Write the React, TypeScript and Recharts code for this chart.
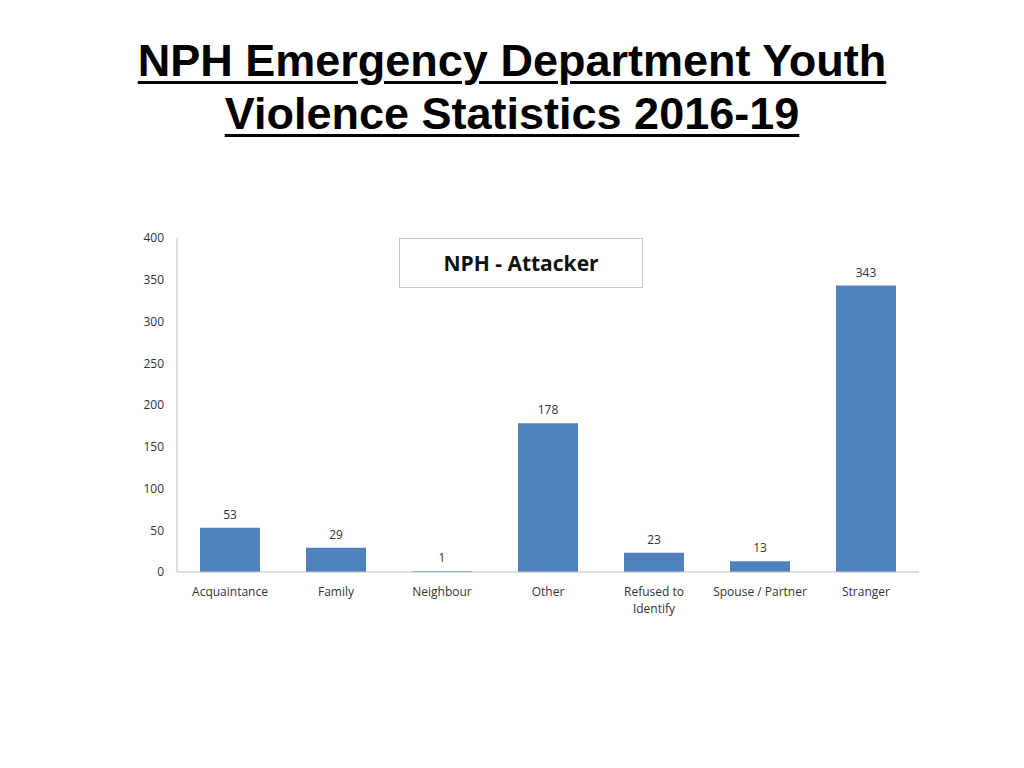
import React from "react";
import { BarChart, Bar, XAxis, YAxis, LabelList } from "recharts";

const CATEGORIES = ["Acquaintance", "Family", "Neighbour", "Other", "Refused to Identify", "Spouse / Partner", "Stranger"];
const ATTACKER = [53, 29, 1, 178, 23, 13, 343];
const Y_TICKS = [0, 50, 100, 150, 200, 250, 300, 350, 400];
const SERIES_NAME = "NPH - Attacker";

const BLUE = "#4f81bd";
const AXIS = "#bfbfbf";
const TEXT = "#333333";
const FONT = "'Open Sans', 'Noto Sans', sans-serif";

// only one label wraps in the original
const WRAP: Record<string, string[]> = { "Refused to Identify": ["Refused to", "Identify"] };

const data = CATEGORIES.map((name, i) => ({ name, v: ATTACKER[i] }));

function XTick({ x, y, payload }: any) {
  const lines = WRAP[payload.value] ?? [payload.value];
  return (
    <text x={x} y={y} textAnchor="middle" fontSize={12} fill={TEXT} fontFamily={FONT}>
      {lines.map((l, i) => (
        <tspan key={i} x={x} dy={i === 0 ? 12 : 17}>{l}</tspan>
      ))}
    </text>
  );
}

export default function App() {
  return (
    <div style={{ position: "absolute", left: 0, top: 0, width: 1024, height: 768, background: "#fff" }}>
      <div
        style={{
          position: "absolute", left: 0, top: 34, width: 1024, textAlign: "center",
          fontFamily: "'Liberation Sans', Arial, sans-serif", fontWeight: 700, fontSize: 45, lineHeight: "53px",
          textDecoration: "underline", textDecorationThickness: 3, textUnderlineOffset: 5, color: "#000",
        }}
      >
        NPH Emergency Department Youth
        <br />
        Violence Statistics 2016-19
      </div>
      <div style={{ position: "absolute", left: 0, top: 0 }}>
        <BarChart width={1024} height={768} data={data} margin={{ top: 238, right: 105, left: 117, bottom: 166 }}>
          <YAxis
            width={60}
            domain={[0, 400]}
            ticks={Y_TICKS}
            interval={0}
            tickLine={false}
            tickSize={0}
            tickMargin={13}
            axisLine={{ stroke: AXIS }}
            tick={{ fontSize: 12, fill: TEXT, fontFamily: FONT }}
          />
          <XAxis
            dataKey="name"
            height={30}
            interval={0}
            tickLine={false}
            tickSize={0}
            tickMargin={12}
            axisLine={{ stroke: AXIS }}
            tick={<XTick />}
          />
          <Bar dataKey="v" name={SERIES_NAME} fill={BLUE} barSize={60} isAnimationActive={false}>
            <LabelList dataKey="v" position="top" offset={9} fontSize={12} fill={TEXT} fontFamily={FONT} />
          </Bar>
        </BarChart>
      </div>
      <div
        style={{
          position: "absolute", left: 399, top: 238, width: 244, height: 50, boxSizing: "border-box",
          border: "1px solid #c8c8c8", background: "#fff",
          display: "flex", alignItems: "center", justifyContent: "center",
          fontFamily: FONT, fontWeight: 700, fontSize: 21, color: "#111",
        }}
      >
        {SERIES_NAME}
      </div>
    </div>
  );
}
